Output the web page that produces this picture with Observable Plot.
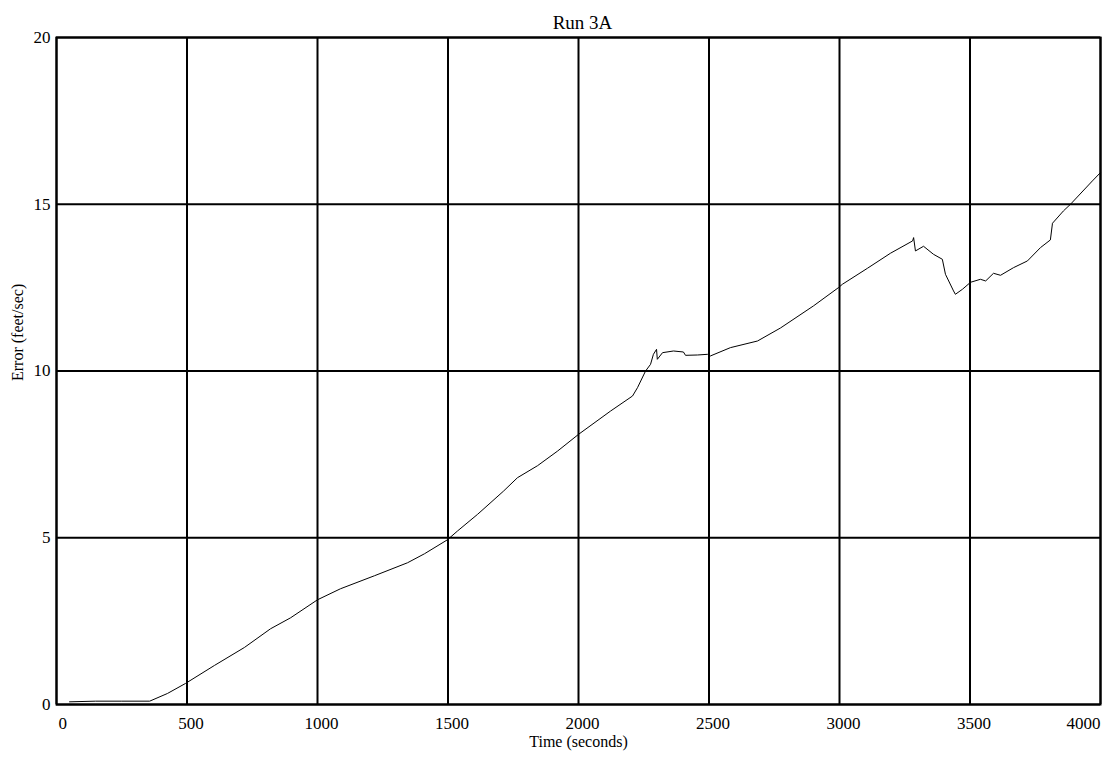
<!DOCTYPE html>
<html>
<head>
<meta charset="utf-8">
<script src="https://cdn.jsdelivr.net/npm/d3@7"></script>
<script src="https://cdn.jsdelivr.net/npm/@observablehq/plot@0.6"></script>
<style>
  html, body { margin: 0; padding: 0; background: #fff; }
  svg { display: block; }
</style>
</head>
<body>
<div id="chart"></div>
<script>
const title = "Run 3A";
const xLabel = "Time (seconds)";
const yLabel = "Error (feet/sec)";
const xTicks = [0, 500, 1000, 1500, 2000, 2500, 3000, 3500, 4000];
const yTicks = [0, 5, 10, 15, 20];

const times = [50, 150, 250, 357, 425, 494, 605, 720, 820, 897, 1000, 1088, 1218, 1345, 1410, 1498,
  1536, 1613, 1713, 1766, 1843, 1920, 2000, 2123, 2207, 2226, 2257, 2276, 2287, 2299, 2302, 2322,
  2364, 2402, 2410, 2456, 2494, 2505, 2582, 2686, 2774, 2900, 2996, 3011, 3107, 3195, 3280, 3284,
  3291, 3322, 3360, 3394, 3406, 3437, 3444, 3471, 3502, 3540, 3560, 3590, 3617, 3667, 3720, 3770,
  3808, 3816, 3858, 3885, 3969, 4000];
const errors = [0.08, 0.1, 0.1, 0.1, 0.33, 0.63, 1.17, 1.71, 2.27, 2.6, 3.14, 3.47, 3.86, 4.25, 4.52, 4.94,
  5.2, 5.7, 6.4, 6.8, 7.16, 7.6, 8.1, 8.8, 9.25, 9.5, 10.0, 10.2, 10.5, 10.65, 10.35, 10.55,
  10.6, 10.57, 10.47, 10.48, 10.5, 10.45, 10.7, 10.9, 11.29, 11.95, 12.5, 12.6, 13.08, 13.53, 13.9, 14.0,
  13.6, 13.74, 13.5, 13.35, 12.9, 12.4, 12.3, 12.45, 12.66, 12.75, 12.7, 12.93, 12.87, 13.1, 13.3, 13.7,
  13.93, 14.43, 14.8, 15.0, 15.7, 15.95];

const data = times.map((t, i) => ({t, e: errors[i]}));
const font = "'Liberation Serif', 'DejaVu Serif', serif";
const fmt = d => String(d);

const chart = Plot.plot({
  width: 1111,
  height: 767,
  marginLeft: 56,
  marginRight: 11,
  marginTop: 37,
  marginBottom: 63,
  style: {fontFamily: font, fontSize: "17px", color: "#000", background: "#fff"},
  x: {domain: [0, 4000]},
  y: {domain: [0, 20]},
  marks: [
    Plot.gridX(xTicks, {stroke: "#000", strokeOpacity: 1, strokeWidth: 2}),
    Plot.gridY(yTicks, {stroke: "#000", strokeOpacity: 1, strokeWidth: 2}),
    Plot.frame({stroke: "#000", strokeWidth: 2}),
    Plot.line(data, {x: "t", y: "e", stroke: "#000", strokeWidth: 1}),
    Plot.axisY(yTicks, {tickSize: 0, tickPadding: 6, label: null, fontSize: 17, tickFormat: fmt}),
    Plot.axisX(xTicks.slice(1, -1), {tickSize: 0, tickPadding: 12, label: null, dx: 4, fontSize: 17, tickFormat: fmt}),
    Plot.axisX([xTicks[0]], {tickSize: 0, tickPadding: 12, label: null, textAnchor: "start", dx: 2, fontSize: 17, tickFormat: fmt}),
    Plot.axisX([xTicks[xTicks.length - 1]], {tickSize: 0, tickPadding: 12, label: null, textAnchor: "end", dx: 0, fontSize: 17, tickFormat: fmt}),
    Plot.text([title], {frameAnchor: "top", dy: -9, dx: 4, fontSize: 19, fill: "#000", lineAnchor: "bottom"}),
    Plot.text([xLabel], {frameAnchor: "bottom", dy: 42, fontSize: 16, fill: "#000"}),
    Plot.text([yLabel], {frameAnchor: "left", dx: -39, dy: 10, rotate: -90, fontSize: 16, fill: "#000"})
  ]
});
document.getElementById("chart").appendChild(chart);
</script>
</body>
</html>
